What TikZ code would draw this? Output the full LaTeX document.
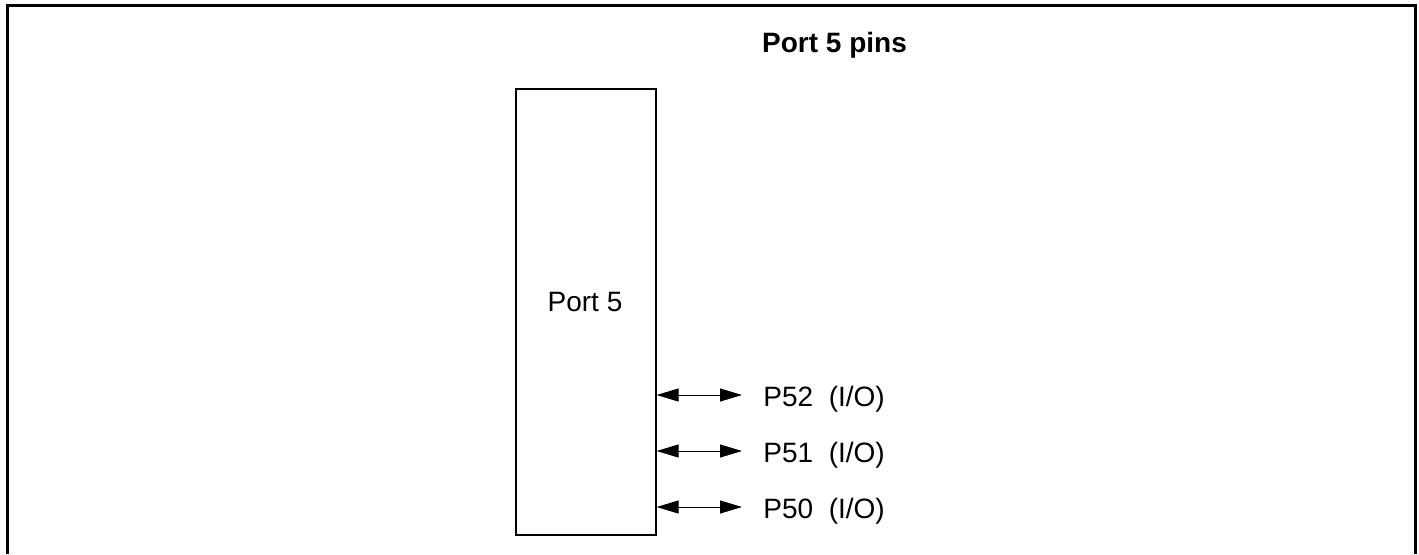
\documentclass[tikz,border=0pt]{standalone}
\usepackage{fontspec}
\setmainfont{Liberation Sans}
\usetikzlibrary{arrows.meta,positioning}

\begin{document}
\begin{tikzpicture}[x=0.5pt,y=-0.5pt,font=\fontsize{14}{16}\selectfont,
  pinarrow/.style={{Triangle[length=11pt,width=6.5pt]}-{Triangle[length=11pt,width=6.5pt]},line width=0.5pt},
  pinlabel/.style={anchor=base west,inner sep=0pt}]
  \useasboundingbox (0,0) rectangle (1419,554);
  % Frame, open at the bottom
  \draw[line width=1.5pt] (7.5,554)--(7.5,5.5)--(1415,5.5)--(1415,554);
  \node[font=\bfseries\fontsize{14}{16}\selectfont,anchor=base] (title) at (834.5,52) {Port 5 pins};

  % Port block
  \node[draw,line width=0.8pt,anchor=north west,inner sep=0pt,
    minimum width=70pt,minimum height=223pt] (port) at (515,88) {};
  \node[anchor=base] (portname) at (585,311) {Port 5};

  % Pins
  \foreach \n/\y in {2/406,1/462,0/518}{
    \node[pinlabel] (pin\n) at (763,\y) {P5\n\ \ (I/O)};
    \coordinate (tip\n) at ([xshift=-10.5pt,yshift=5.5pt]pin\n.base west);
    \draw[pinarrow] (port.east |- tip\n) -- (tip\n);
  }
\end{tikzpicture}
\end{document}
